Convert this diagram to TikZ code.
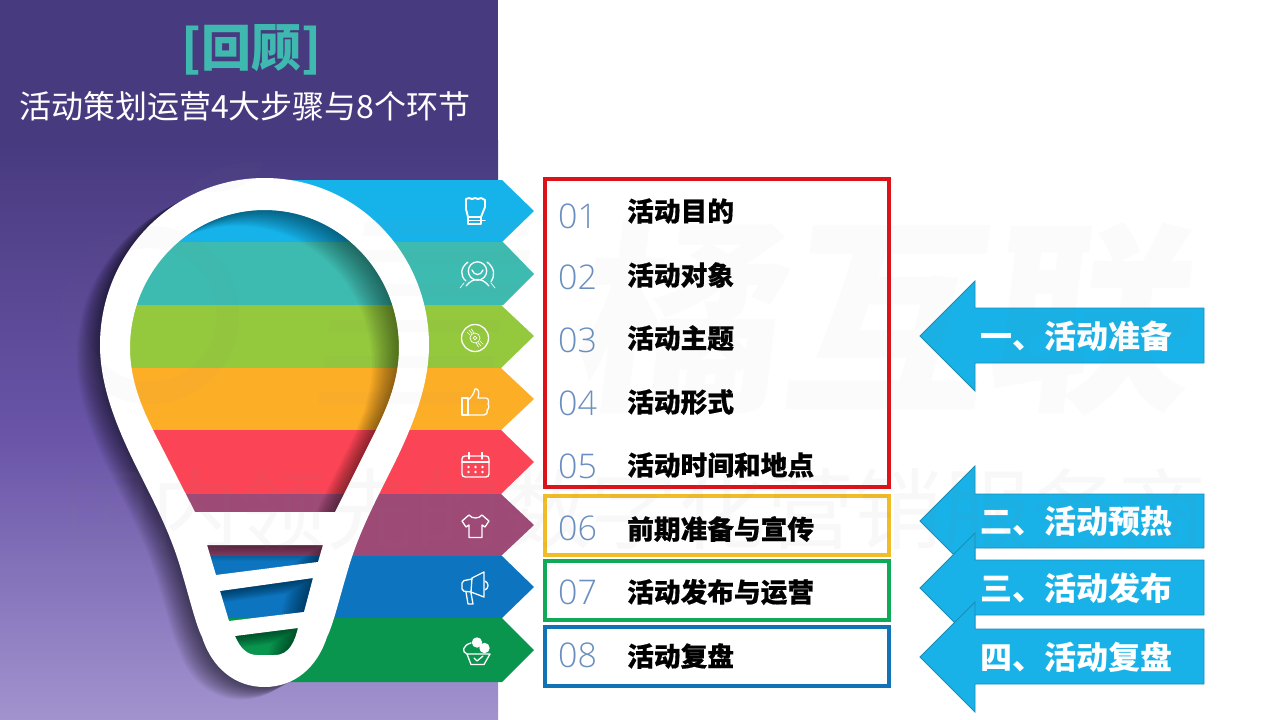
\documentclass[tikz,border=0pt]{standalone}
\usepackage{fontspec}
\setmainfont{Noto Sans CJK SC}
\newfontfamily\numfont[UprightFont=* Light]{Open Sans}
\newfontfamily\heavyfont[BoldFeatures={FakeBold=0.5}]{Noto Sans CJK SC}
\usetikzlibrary{calc}
\definecolor{panelA}{HTML}{483A7F}
\definecolor{panelB}{HTML}{6A55A8}
\definecolor{panelC}{HTML}{A293CE}
\definecolor{bandA}{HTML}{16B3EA}
\definecolor{bandB}{HTML}{3DBBB0}
\definecolor{bandC}{HTML}{94C83D}
\definecolor{bandD}{HTML}{FDAE27}
\definecolor{bandE}{HTML}{FB4556}
\definecolor{bandF}{HTML}{9E4A76}
\definecolor{bandG}{HTML}{0D75BF}
\definecolor{bandH}{HTML}{0A954F}
\definecolor{numcol}{HTML}{6A8FBF}
\definecolor{arrowfill}{HTML}{18B2E8}
\definecolor{arrowline}{HTML}{1A8DB5}
\definecolor{teal}{HTML}{3FB8B0}
\definecolor{boxred}{HTML}{DC1218}
\definecolor{boxyellow}{HTML}{F2BC26}
\definecolor{boxgreen}{HTML}{10A957}
\definecolor{boxblue}{HTML}{1272B6}
\definecolor{wmgray}{HTML}{808080}
\newcommand{\bulbouter}{(264.5,178) .. controls (173,178) and (100,253) .. (100,345) .. controls (100,385) and (116,425) .. (133,460) .. controls (150,495) and (170,530) .. (182,573) .. controls (190,600) and (196,625) .. (202,637) .. controls (212,668) and (235,687) .. (264.5,687) .. controls (294,687) and (317,668) .. (327,637) .. controls (333,625) and (339,600) .. (347,573) .. controls (359,530) and (379,495) .. (396,460) .. controls (413,425) and (429,385) .. (429,345) .. controls (429,253) and (356,178) .. (264.5,178) -- cycle}
\newcommand{\cavA}{(264.5,210) .. controls (190,210) and (130,272) .. (130,348) .. controls (130,380) and (142,408) .. (153,430) -- (195,512) -- (335,512) -- (376,430) .. controls (387,408) and (399,380) .. (399,348) .. controls (399,272) and (339,210) .. (264.5,210) -- cycle}
\newcommand{\cavB}{(207,545) -- (323,545) -- (318,562) -- (216,575) -- cycle}
\newcommand{\cavC}{(220,591) -- (313,578) -- (304,612) -- (229,621) -- cycle}
\newcommand{\cavD}{(235,636) -- (298,628) .. controls (295,640) and (290,655) .. (275,655) -- (257,655) .. controls (247,655) and (240,648) .. (235,636) -- cycle}
\newcommand{\innershade}[1]{%
  \begin{scope}
    \clip #1;
    \foreach \k in {1,2,...,16}{
      \fill[black,opacity=0.03,even odd rule] (-100,-100) rectangle (1400,800)
        [shift={(-\k*1.7,\k*1.0)}] #1;
    }
  \end{scope}}
\tikzset{
  itemtext/.style={font=\heavyfont\bfseries\fontsize{26.7}{30}\selectfont,text=black,anchor=west,inner sep=0},
  numtext/.style={font=\numfont\fontsize{34}{38}\selectfont,text=numcol,anchor=west,inner sep=0},
  framebox/.style={line width=3.4pt,fill=none},
  leftarrow/.style={fill=arrowfill,draw=arrowline,line width=0.8pt},
  arrowtext/.style={font=\bfseries\fontsize{32}{36}\selectfont,text=white,anchor=west,inner sep=0},
  icon/.style={draw=white,line width=1.3pt,line join=round,line cap=round,fill=none},
  iconthick/.style={draw=white,line width=1.9pt,line join=round,line cap=round,fill=none},
  iconthin/.style={draw=white,line width=0.7pt,line cap=round,fill=none},
  wmark/.style={wmgray,opacity=0.03},
}
\begin{document}
\begin{tikzpicture}[x=1pt,y=-1pt]
\useasboundingbox (0,0) rectangle (1280,720);
\fill[white] (0,0) rectangle (1280,720);
% panel
\fill[panelA] (0,0) rectangle (498,140);
\shade[top color=panelA,bottom color=panelB] (0,140) rectangle (498,440);
\shade[top color=panelB,bottom color=panelC] (0,440) rectangle (498,720);
% outer shadow of the bulb
\foreach \k in {1,2,...,18}{
  \fill[black,opacity=0.034] [shift={(-\k*1.3,\k*0.7)}] \bulbouter;
}
% bands
\fill[bandA] (268,180) -- (502,180) -- (534,211) -- (502,242) -- (150,242) -- cycle;
\fill[bandB] (150,242) -- (503,242) -- (534,274) -- (503,305) -- (118,305) -- cycle;
\fill[bandC] (118,305) -- (501,305) -- (534,336) -- (501,368) -- (118,368) -- cycle;
\fill[bandD] (118,368) -- (501,368) -- (534,399) -- (501,430) -- (140,430) -- cycle;
\fill[bandE] (140,430) -- (501,430) -- (534,462) -- (501,494) -- (170,494) -- cycle;
\fill[bandF] (170,494) -- (501,494) -- (534,525) -- (501,556) -- (195,556) -- cycle;
\fill[bandG] (195,556) -- (502,556) -- (534,587) -- (502,618) -- (213,618) -- cycle;
\fill[bandH] (213,618) -- (502,618) -- (534,650) -- (502,682) -- (255,682) -- (225,660) -- cycle;
% bulb
\innershade{\cavA}
\innershade{\cavB}
\innershade{\cavC}
\innershade{\cavD}
\fill[white,even odd rule] \bulbouter \cavA \cavB \cavC \cavD;
% icons
\draw[iconthick] (466,199) -- (469,198) -- (472,199) -- (475,198) -- (478,199) -- (481,198) -- (485,200) -- (485,207) -- (481,217) -- (468,217) -- (466,209) -- cycle;
\draw[iconthick] (468,217) -- (468,224) -- (481,224) -- (481,217);
\draw[icon] (468,220.5) -- (485,220.5);
\draw[icon] (477.5,271) circle (9.2);
\draw[icon] (472,270) .. controls (474,276) and (481,276) .. (483,270);
\draw[icon] (468,262) .. controls (460,268) and (460,276) .. (466,281);
\draw[icon] (487,262) .. controls (495,268) and (495,276) .. (491,282);
\draw[icon] (466,286) .. controls (470,281) and (474,279.5) .. (477.5,279.5) .. controls (481,279.5) and (485,281) .. (489,286);
\draw[iconthin] (460,288) -- (464,283) (495,288) -- (491,283);
\draw[icon] (475,338) circle (13.5);
\draw[iconthin] (475,338) circle (5) (475,338) circle (1.8);
\draw[iconthin] (467,332) -- (470,335) (469,330) -- (472,333.5) (471.5,329) -- (473.5,332.5) (483,344) -- (480,341) (481,346) -- (478,342.5) (478.5,347) -- (476.5,343.5);
\draw[icon] (462,398) rectangle (468,415);
\draw[icon] (468,400) .. controls (472,397) and (474,393) .. (475,389) .. controls (478,388) and (480,392) .. (478,398) -- (486,398) .. controls (489,398) and (489,403) .. (488,404) .. controls (490,406) and (488,410) .. (487,410) .. controls (488,413) and (486,415) .. (484,415) -- (468,415);
\draw[icon,rounded corners=3pt] (462,456) rectangle (489,477);
\draw[icon] (462,462) -- (489,462) (469,452.5) -- (469,459) (482,452.5) -- (482,459);
\foreach \dx in {468.5,475.5,482.5}{\foreach \dy in {467,472}{\fill[white] (\dx,\dy) circle (1.3);}}
\draw[icon] (469,515) .. controls (472,519) and (479,519) .. (482,515) -- (489,521) -- (485,527) -- (482,525) -- (482,537.5) -- (469,537.5) -- (469,525) -- (466,527) -- (462,521) -- cycle;
\draw[icon] (472,578) -- (484,572) -- (484,597) -- (471,592) -- cycle;
\draw[icon,rounded corners=2pt] (472,579) -- (462,581) -- (462,591) -- (471,592);
\draw[icon] (466,592) -- (468,604) -- (473,604) -- (471,593);
\draw[icon] (485,581) .. controls (489,583) and (489,588) .. (485,590);
\draw[icon] (467,654) -- (490,654) -- (484,664.5) -- (471,664.5) -- cycle;
\draw[icon] (474,658) -- (477,661) -- (483,656);
\draw[icon] (471,643) .. controls (463,645) and (461,652) .. (467,654);
\fill[white] (477,642.5) circle (5.2);
\fill[white] (484.5,648) circle (5.2);
% top titles
\node[font=\bfseries\fontsize{50}{54}\selectfont,text=teal,inner sep=0] (title) at (251,50) {[回顾]};
\node[font=\fontsize{32}{36}\selectfont,text=white,inner sep=0] (subtitle) at (245,106) {活动策划运营4大步骤与8个环节};
% frames
\draw[framebox,draw=boxred] (545,179) rectangle (889,487);
\draw[framebox,draw=boxyellow] (545,496) rectangle (889,555);
\draw[framebox,draw=boxgreen] (545,561) rectangle (889,620);
\draw[framebox,draw=boxblue] (545,627) rectangle (889,686);
% numbers & items
\node[numtext] (n1) at (558,216) {01};
\node[numtext] (n2) at (558,277) {02};
\node[numtext] (n3) at (558,340) {03};
\node[numtext] (n4) at (558,403) {04};
\node[numtext] (n5) at (558,466) {05};
\node[numtext] (n6) at (558,528) {06};
\node[numtext] (n7) at (558,592) {07};
\node[numtext] (n8) at (558,655) {08};
\node[itemtext] (t1) at (627,211) {活动目的};
\node[itemtext] (t2) at (627,275) {活动对象};
\node[itemtext] (t3) at (627,338) {活动主题};
\node[itemtext] (t4) at (627,402) {活动形式};
\node[itemtext] (t5) at (627,465) {活动时间和地点};
\node[itemtext] (t6) at (627,529) {前期准备与宣传};
\node[itemtext] (t7) at (627,592) {活动发布与运营};
\node[itemtext] (t8) at (627,656) {活动复盘};
% arrows
\draw[leftarrow] (920,336) -- (975,281) -- (975,308) -- (1204,308) -- (1204,363) -- (975,363) -- (975,391) -- cycle;
\node[arrowtext] (a1) at (980,336) {一、活动准备};
\draw[leftarrow] (920,521) -- (975,466) -- (975,494) -- (1204,494) -- (1204,548) -- (975,548) -- (975,576) -- cycle;
\node[arrowtext] (a2) at (980,521) {二、活动预热};
\draw[leftarrow] (920,588) -- (975,533) -- (975,560) -- (1204,560) -- (1204,615) -- (975,615) -- (975,643) -- cycle;
\node[arrowtext] (a3) at (980,588) {三、活动发布};
\draw[leftarrow] (920,657) -- (975,602) -- (975,629) -- (1204,629) -- (1204,684) -- (975,684) -- (975,712) -- cycle;
\node[arrowtext] (a4) at (980,657) {四、活动复盘};
% watermark
\node[font=\fontsize{88}{92}\selectfont,text=wmgray,opacity=0.05,inner sep=0] (wm) at (635,509) {国内领先的数字化营销服务商};
\node[font=\bfseries\fontsize{205}{210}\selectfont,text=wmgray,opacity=0.03,inner sep=0,xslant=0.12,transform shape] (wmbig) at (890,318) {橘互联};
\draw[wmark,line width=22pt] (150,315) circle (78);
\fill[wmark] (190,190) .. controls (205,168) and (240,160) .. (262,162) .. controls (262,180) and (230,198) .. (190,190) -- cycle;
\fill[wmark] (365,222) -- (530,222) -- (528,236) -- (363,236) -- cycle;
\fill[wmark] (355,250) -- (530,250) -- (528,262) -- (353,262) -- cycle;
\fill[wmark] (350,284) -- (520,284) -- (518,296) -- (348,296) -- cycle;
\fill[wmark] (330,320) -- (500,320) -- (498,332) -- (328,332) -- cycle;
\fill[wmark] (325,356) -- (495,356) -- (493,368) -- (323,368) -- cycle;
\fill[wmark] (320,392) -- (490,392) -- (488,404) -- (318,404) -- cycle;
\end{tikzpicture}
\end{document}
